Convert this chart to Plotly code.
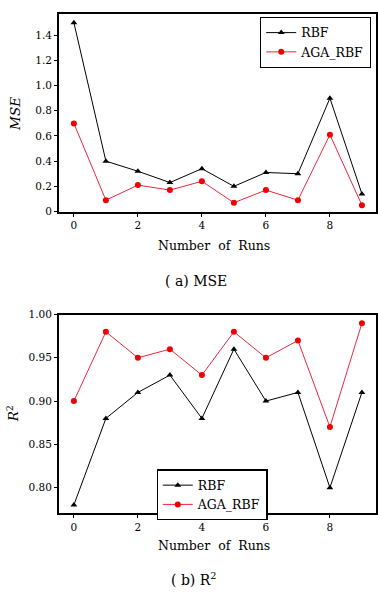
import plotly.graph_objects as go

runs = list(range(10))
mse_rbf = [1.50, 0.40, 0.32, 0.23, 0.34, 0.20, 0.31, 0.30, 0.90, 0.14]
mse_aga = [0.70, 0.09, 0.21, 0.17, 0.24, 0.07, 0.17, 0.09, 0.61, 0.05]
r2_rbf = [0.78, 0.88, 0.91, 0.93, 0.88, 0.96, 0.90, 0.91, 0.80, 0.91]
r2_aga = [0.90, 0.98, 0.95, 0.96, 0.93, 0.98, 0.95, 0.97, 0.87, 0.99]
mse_ticks = [0, 0.2, 0.4, 0.6, 0.8, 1.0, 1.2, 1.4]
mse_ticktext = ["0", "0.2", "0.4", "0.6", "0.8", "1.0", "1.2", "1.4"]
r2_ticks = [0.80, 0.85, 0.90, 0.95, 1.00]
r2_ticktext = ["0.80", "0.85", "0.90", "0.95", "1.00"]
x_ticks = [0, 2, 4, 6, 8]

W, H = 378, 598
FONT = "DejaVu Serif"
RED_LINE = "#e8283c"
RED_MK = "#f00000"

def py(px):
    return 1 - px / H

fig = go.Figure()
tri = dict(symbol="triangle-up", size=6, color="black")
circ = dict(symbol="circle", size=6, color=RED_MK)

fig.add_trace(go.Scatter(x=runs, y=mse_rbf, mode="lines+markers", name="RBF",
                         line=dict(color="black", width=1), marker=tri,
                         xaxis="x", yaxis="y", legend="legend"))
fig.add_trace(go.Scatter(x=runs, y=mse_aga, mode="lines+markers", name="AGA_RBF",
                         line=dict(color=RED_LINE, width=1), marker=circ,
                         xaxis="x", yaxis="y", legend="legend"))
fig.add_trace(go.Scatter(x=runs, y=r2_rbf, mode="lines+markers", name="RBF",
                         line=dict(color="black", width=1), marker=tri,
                         xaxis="x2", yaxis="y2", legend="legend2"))
fig.add_trace(go.Scatter(x=runs, y=r2_aga, mode="lines+markers", name="AGA_RBF",
                         line=dict(color=RED_LINE, width=1), marker=circ,
                         xaxis="x2", yaxis="y2", legend="legend2"))

xd = [59 / W, 377 / W]
axis_common = dict(showline=True, linecolor="black", linewidth=1.5, mirror=True,
                   ticks="outside", ticklen=3, tickcolor="black", showgrid=False,
                   zeroline=False, tickfont=dict(family=FONT, size=10.5, color="black"))

leg_common = dict(bordercolor="black", borderwidth=1.2, bgcolor="white",
                  font=dict(family=FONT, size=12.5), tracegroupgap=0, itemwidth=30)

fig.update_layout(
    width=W, height=H, margin=dict(l=0, r=0, t=0, b=0),
    plot_bgcolor="white", paper_bgcolor="white",
    font=dict(family=FONT, color="black"),
    xaxis=dict(domain=xd, anchor="y", range=[-0.47, 9.44], tickvals=x_ticks, **axis_common),
    yaxis=dict(domain=[py(210), py(8)], anchor="x", range=[-0.005, 1.57],
               tickvals=mse_ticks, ticktext=mse_ticktext, **axis_common),
    xaxis2=dict(domain=xd, anchor="y2", range=[-0.47, 9.44], tickvals=x_ticks, **axis_common),
    yaxis2=dict(domain=[py(516.7), py(314.3)], anchor="x2", range=[0.7705, 1.0],
                tickvals=r2_ticks, ticktext=r2_ticktext, **axis_common),
    legend=dict(x=372 / W, y=py(11), xanchor="right", yanchor="top", **leg_common),
    legend2=dict(x=157 / W, y=py(472), xanchor="left", yanchor="top", **leg_common),
    showlegend=True,
)

ann = [
    dict(text="<i>MSE</i>", x=15 / W, y=py(110), textangle=-90, size=13.5),
    dict(text="<i>R</i><sup>2</sup>", x=13 / W, y=py(415), textangle=-90, size=13.5),
    dict(text="Number  of  Runs", x=215 / W, y=py(244), textangle=0, size=12.5),
    dict(text="Number  of  Runs", x=215 / W, y=py(550), textangle=0, size=12.5),
    dict(text="( a) MSE", x=197 / W, y=py(280), textangle=0, size=14),
    dict(text="( b) R<sup>2</sup>", x=195 / W, y=py(584), textangle=0, size=14),
]
for a in ann:
    fig.add_annotation(text=a["text"], x=a["x"], y=a["y"], xref="paper", yref="paper",
                       showarrow=False, textangle=a["textangle"], xanchor="center",
                       yanchor="middle", font=dict(family=FONT, size=a["size"], color="black"))

fig.write_html("out.html", config={"displayModeBar": False},
               post_script="document.body.style.margin='0';document.body.style.overflow='hidden';")
